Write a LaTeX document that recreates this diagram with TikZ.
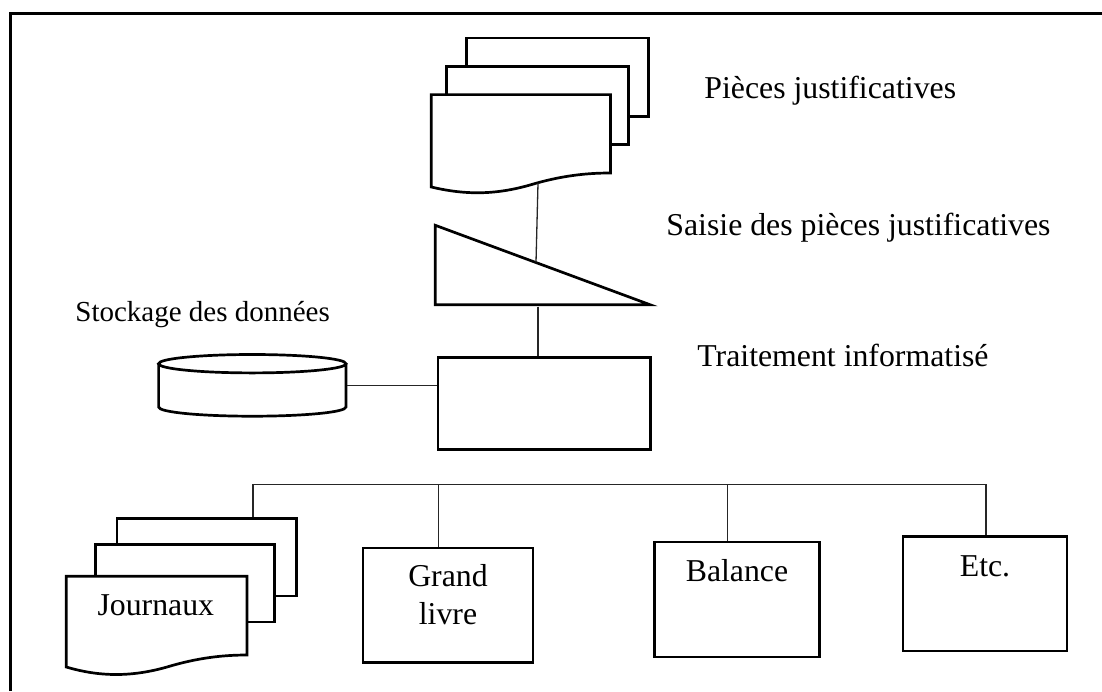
\documentclass[tikz,border=0pt]{standalone}
\usepackage{fontspec}
\setmainfont{Liberation Serif}
\usetikzlibrary{fit}
\begin{document}
\begin{tikzpicture}[x=0.5pt,y=-0.5pt,
  shapeline/.style={line width=1.35pt, line join=miter},
  page/.style={shapeline, fill=white},
  box/.style={draw, line width=1.35pt, inner sep=0pt},
  link/.style={line width=0.65pt, draw=black!85},
  frameline/.style={line width=1.5pt},
  lbl/.style={inner sep=0pt, font=\fontsize{15.9}{18.6}\selectfont},
  smalllbl/.style={inner sep=0pt, font=\fontsize{14.5}{17}\selectfont}]
\useasboundingbox (0,0) rectangle (1102,691);

% outer frame (top and left edges)
\coordinate (frame-tl) at (10,13.5);
\draw[frameline] (10,691) -- (frame-tl) -- (1102,13.5);

% source documents (stack of three pages)
\draw[page] (466.5,38) rectangle (648.7,116.7);
\draw[page] (446.5,66.3) rectangle (628.7,144.7);
\draw[page] (431.3,94.6) -- (610.4,94.6) -- (610.4,173)
  .. controls (585,173) and (560,176) .. (530,185)
  .. controls (495,195) and (465,195) .. (431.3,187) -- cycle;
\coordinate (src-out) at (538,183);
\node[lbl, anchor=base west] (lbl-src) at (704,98.3) {Pièces justificatives};

% manual input
\coordinate (tri-nw) at (435.3,225.3);
\coordinate (tri-sw) at (435.3,304.7);
\coordinate (tri-e) at (650,304.7);
\draw[shapeline] (tri-nw) -- (tri-sw) -- (tri-e) -- cycle;
\coordinate (tri-in) at (536,262.3);
\draw[link] (src-out) -- (tri-in);
\node[lbl, anchor=base west] (lbl-entry) at (666,235) {Saisie des pièces justificatives};

% processing
\node[box, fit={(438,357.3) (650.7,449.7)}] (proc) {};
\coordinate (tri-out) at (538,306.5);
\draw[link] (tri-out) -- (tri-out |- proc.north);
\node[lbl, anchor=base west] (lbl-proc) at (697,366) {Traitement informatisé};

% data storage
\draw[shapeline] (158.6,363.7) -- (158.6,407)
  .. controls (158.6,412.2) and (200.5,416.2) .. (252.3,416.2)
  .. controls (304.1,416.2) and (346,412.2) .. (346,407) -- (346,363.7);
\draw[shapeline] (252.3,363.7) ellipse [x radius=93.7, y radius=9.2];
\coordinate (store-out) at (347.3,385.7);
\draw[link] (store-out) -- (store-out -| proc.west);
\node[smalllbl, anchor=base west] (lbl-store) at (75,321.7) {Stockage des données};

% distribution bus
\coordinate (bus-l) at (253,484.3);
\coordinate (bus-r) at (986,484.3);
\draw[link] (bus-l) -- (bus-r);

% journals (stack of three pages)
\draw[page] (117,518.6) rectangle (296.4,596);
\draw[page] (95.3,544.6) rectangle (274.7,622);
\draw[page] (66.3,576.3) -- (247,576.3) -- (247,655)
  .. controls (222,655) and (197,658) .. (167,667)
  .. controls (132,677) and (100,677) .. (66.3,667) -- cycle;
\coordinate (jrn-in) at (253,517.3);
\draw[link] (bus-l) -- (jrn-in);
\node[lbl, anchor=base] (lbl-jrn) at (155.8,615) {Journaux};

% general ledger
\node[box, fit={(363,548) (533,662.7)}] (ledger) {};
\node[lbl, anchor=base] (lbl-ledger1) at (448,586.7) {Grand};
\node[lbl, anchor=base] (lbl-ledger2) at (448,624) {livre};
\coordinate (tap-ledger) at (438.3,484.3);
\draw[link] (tap-ledger) -- (tap-ledger |- ledger.north);

% trial balance
\node[box, fit={(654.6,542) (819.4,657)}] (bal) {};
\node[lbl, anchor=base] (lbl-bal) at (737,581.7) {Balance};
\coordinate (tap-bal) at (727.7,484.3);
\draw[link] (tap-bal) -- (tap-bal |- bal.north);

% others
\node[box, fit={(903,536.3) (1067,651)}] (misc) {};
\node[lbl, anchor=base] (lbl-misc) at (985,576) {Etc.};
\draw[link] (bus-r) -- (bus-r |- misc.north);
\end{tikzpicture}
\end{document}
